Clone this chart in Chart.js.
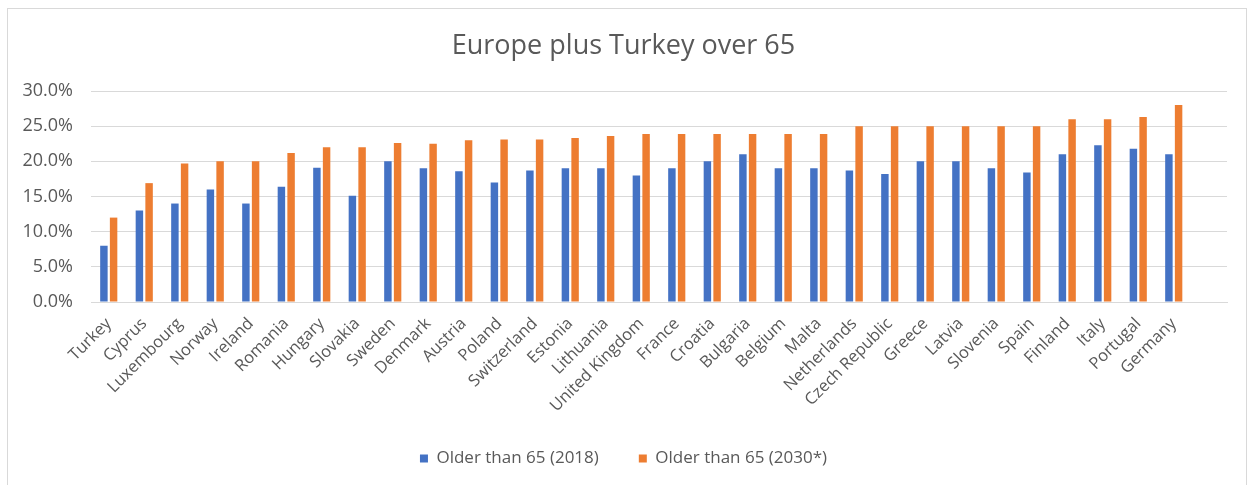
<!DOCTYPE html>
<html>
<head>
<meta charset="utf-8">
<script src="https://cdn.jsdelivr.net/npm/chart.js@4/dist/chart.umd.min.js"></script>
<style>
  html, body { margin: 0; padding: 0; background: #ffffff; overflow: hidden; }
  #frame {
    position: absolute; left: 7px; top: 8px; width: 1240px; height: 490px;
    border: 1px solid #d9d9d9; box-sizing: border-box;
  }
  #wrap { position: absolute; left: 0; top: 0; width: 1249px; height: 485px; }
</style>
</head>
<body>
<div id="frame"></div>
<div id="wrap"><canvas id="chart"></canvas></div>
<script>
// Share of population aged 65+ (percent), sorted by the 2030 projection
const countries = [
  'Turkey', 'Cyprus', 'Luxembourg', 'Norway', 'Ireland', 'Romania', 'Hungary',
  'Slovakia', 'Sweden', 'Denmark', 'Austria', 'Poland', 'Switzerland', 'Estonia',
  'Lithuania', 'United Kingdom', 'France', 'Croatia', 'Bulgaria', 'Belgium',
  'Malta', 'Netherlands', 'Czech Republic', 'Greece', 'Latvia', 'Slovenia',
  'Spain', 'Finland', 'Italy', 'Portugal', 'Germany', ''
];
const over65_2018 = [
  8.0, 13.0, 14.0, 16.0, 14.0, 16.4, 19.1, 15.1, 20.0, 19.0, 18.6, 17.0,
  18.7, 19.0, 19.0, 18.0, 19.0, 20.0, 21.0, 19.0, 19.0, 18.7, 18.2, 20.0,
  20.0, 19.0, 18.4, 21.0, 22.3, 21.8, 21.0, null
];
const over65_2030 = [
  12.0, 16.9, 19.7, 20.0, 20.0, 21.2, 22.0, 22.0, 22.6, 22.5, 23.0, 23.1,
  23.1, 23.3, 23.6, 23.9, 23.9, 23.9, 23.9, 23.9, 23.9, 25.0, 25.0, 25.0,
  25.0, 25.0, 25.0, 26.0, 26.0, 26.3, 28.0, null
];
const yTicks = [0, 5, 10, 15, 20, 25, 30];

const FONT = "'Open Sans', sans-serif";
const GREY = '#595959';

new Chart(document.getElementById('chart'), {
  type: 'bar',
  data: {
    labels: countries,
    datasets: [
      {
        label: 'Older than 65 (2018)',
        data: over65_2018,
        backgroundColor: '#4472C4',
        barPercentage: 0.77,
        categoryPercentage: 0.546
      },
      {
        label: 'Older than 65 (2030*)',
        data: over65_2030,
        backgroundColor: '#ED7D31',
        barPercentage: 0.77,
        categoryPercentage: 0.546
      }
    ]
  },
  options: {
    responsive: true,
    maintainAspectRatio: false,
    animation: false,
    layout: { padding: { left: 20, right: 22, top: 0, bottom: 8 } },
    plugins: {
      title: {
        display: true,
        text: 'Europe plus Turkey over 65',
        color: GREY,
        font: { family: FONT, size: 27, weight: 'normal' },
        padding: { top: 30, bottom: 28.6 }
      },
      legend: {
        position: 'bottom',
        labels: {
          color: GREY,
          font: { family: FONT, size: 17 },
          boxWidth: 8,
          boxHeight: 8,
          padding: 40
        }
      },
      tooltip: { enabled: false }
    },
    scales: {
      x: {
        grid: { display: false },
        border: { color: '#d9d9d9' },
        ticks: {
          color: GREY,
          font: { family: FONT, size: 16.5 },
          maxRotation: 45,
          minRotation: 45,
          autoSkip: false,
          padding: 4
        },
        afterFit: (scale) => { scale.height = 108; }
      },
      y: {
        min: 0,
        max: 30,
        afterBuildTicks: (scale) => { scale.ticks = yTicks.map(v => ({ value: v })); },
        grid: { color: '#d9d9d9', drawTicks: false },
        border: { display: false },
        ticks: {
          color: GREY,
          font: { family: FONT, size: 18 },
          padding: 18,
          callback: (v) => v.toFixed(1) + '%'
        },
        afterFit: (scale) => { scale.width = 71; }
      }
    }
  }
});
</script>
</body>
</html>
